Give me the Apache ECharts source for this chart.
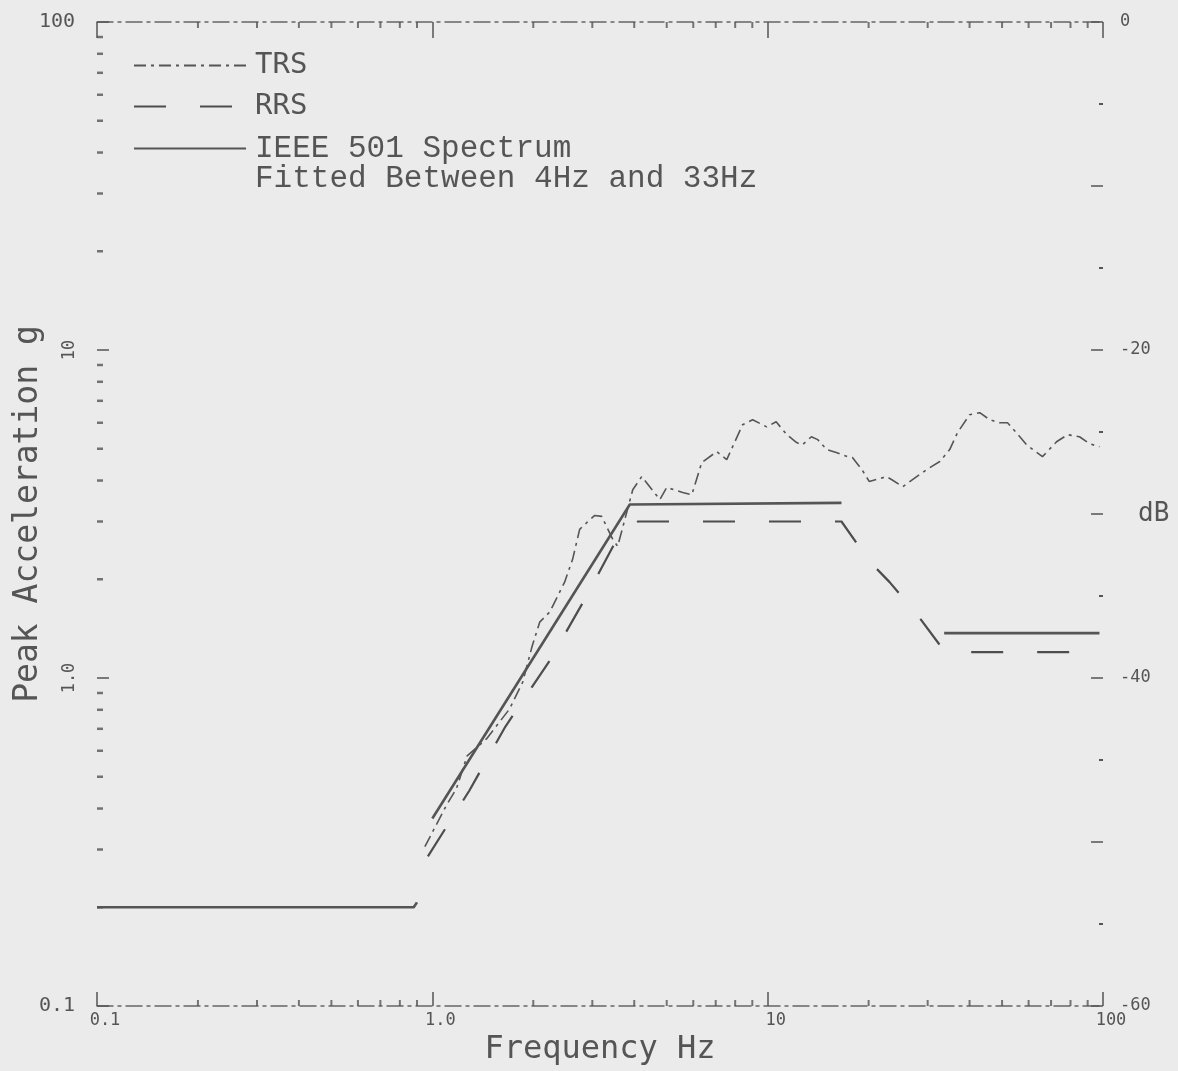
<!DOCTYPE html>
<html><head><meta charset="utf-8">
<script src="https://cdn.jsdelivr.net/npm/echarts@6/dist/echarts.min.js"></script>
<style>html,body{margin:0;padding:0;background:#ebebeb;}#c{width:1178px;height:1071px;}</style>
</head><body><div id="c"></div>
<script>
// ---- data ----
const trsFreq = [0.95,1.10,1.18,1.27,1.45,1.70,1.86,1.98,2.09,2.24,2.48,2.62,2.75,2.89,3.05,3.20,3.45,3.57,3.96,4.21,4.77,5.00,5.58,5.94,6.36,7.05,7.55,8.42,9.02,9.93,10.6,11.4,12.2,12.7,13.5,14.1,15.0,16.1,17.3,17.9,19.1,20.1,21.1,22.6,23.4,25.3,27.1,29.8,32.6,34.9,36.8,40.0,42.9,45.9,49.2,51.9,55.2,59.2,66.0,72.7,78.4,85.1,91.2,97.6];
const trsAcc  = [0.306,0.408,0.460,0.579,0.652,0.805,0.972,1.24,1.48,1.59,1.96,2.30,2.84,2.98,3.13,3.11,2.65,2.52,3.75,4.11,3.50,3.81,3.68,3.62,4.54,4.90,4.63,5.92,6.13,5.83,6.04,5.52,5.22,5.14,5.44,5.33,4.97,4.86,4.73,4.70,4.32,3.97,4.03,4.11,4.03,3.83,4.03,4.32,4.57,4.97,5.59,6.35,6.44,6.13,6.00,6.00,5.59,5.14,4.73,5.25,5.52,5.44,5.18,5.07];
const rrsFreq = [0.97,1.29,1.65,2.24,2.85,3.55,4.10,16.6,20.1,23.1,27.8,33.0,36.1,82.2];
const rrsAcc  = [0.286,0.454,0.710,1.13,1.74,2.65,3.0,3.0,2.27,1.96,1.57,1.24,1.2,1.2];
const ieeeFreq = [0.1,0.88,0.9,null,1.0,3.88,16.6,null,33.6,97.6];
const ieeeAcc  = [0.2,0.2,0.207,null,0.373,3.38,3.42,null,1.37,1.37];
const xTickVals = [0.1,1,10,100];
const xTickLabels = ['0.1','1.0','10','100'];
const yRotTickVals = [10,1];
const yRotTickLabels = ['10','1.0'];
const yFlatTickVals = [100,0.1];
const yFlatTickLabels = ['100','0.1'];
const dbLabelVals = [0,-20,-40,-60,-30];
const dbLabelTexts = ['0','-20','-40','-60','dB'];
const minorMultipliers = [2,3,4,5,6,7,8,9];
const decadeStarts = [0.1,1,10];

// ---- helpers ----
function pairs(xs, ys){ return xs.map((x,i)=> x===null ? [NaN,'-'] : [x, ys[i]]); }
function findLog(vals, v){ return vals.findIndex(t=>Math.abs(Math.log10(t)-Math.log10(v))<1e-6); }
const minorVals = [];
decadeStarts.forEach(d=>minorMultipliers.forEach(m=>minorVals.push(+(d*m).toPrecision(3))));

const ink = '#555';
const plotFont = 'DejaVu Sans Mono';
const chart = echarts.init(document.getElementById('c'));
const option = {
  backgroundColor:'#ebebeb',
  animation:false,
  grid:{left:97,right:75,top:22,bottom:63},
  legend:{
    orient:'vertical', left:128, top:46, itemWidth:112, itemHeight:14, itemGap:12,
    itemStyle:{opacity:0},
    textStyle:{color:ink, padding:[0,0,0,4]},
    data:[
      {name:'TRS', textStyle:{fontFamily:plotFont, fontSize:29}},
      {name:'RRS', textStyle:{fontFamily:plotFont, fontSize:29}},
      {name:'IEEE 501 Spectrum', textStyle:{fontFamily:'Liberation Mono', fontSize:31}}
    ]
  },
  graphic:[{type:'text', left:255, top:163, style:{text:'Fitted Between 4Hz and 33Hz', font:'31px "Liberation Mono"', fill:ink}}],
  xAxis:[
    {type:'log', logBase:10, min:0.1, max:100, position:'bottom',
     axisLine:{onZero:false, lineStyle:{color:'#666', width:1.5, type:[16,5,3,5]}},
     axisTick:{inside:true, length:14, lineStyle:{color:ink, width:1.5}},
     axisLabel:{fontFamily:plotFont, fontSize:17, color:ink, margin:6, padding:[0,0,0,16],
       formatter:v=>{const i=findLog(xTickVals,v); return i<0?'':xTickLabels[i];}},
     splitLine:{show:false},
     name:'Frequency Hz', nameLocation:'middle', nameGap:28,
     nameTextStyle:{fontFamily:plotFont, fontSize:32, color:ink}},
    {type:'log', logBase:10, min:0.1, max:100, position:'top',
     axisLine:{onZero:false, lineStyle:{color:'#666', width:1.5, type:[16,5,3,5]}},
     axisTick:{inside:true, length:16, lineStyle:{color:ink, width:1.5}},
     axisLabel:{show:false}, splitLine:{show:false}}
  ],
  yAxis:[
    {type:'log', logBase:10, min:0.1, max:100, position:'left',
     axisLine:{show:false, onZero:false},
     axisTick:{show:true, inside:true, length:12, lineStyle:{color:ink, width:1.5}},
     axisLabel:{rotate:90, margin:19, fontFamily:plotFont, fontSize:17, color:ink,
       formatter:v=>{const i=findLog(yRotTickVals,v); return i<0?'':yRotTickLabels[i];}},
     splitLine:{show:false},
     name:'Peak Acceleration g', nameLocation:'middle', nameGap:52, nameRotate:90,
     nameTextStyle:{fontFamily:plotFont, fontSize:33, color:ink}},
    {type:'log', logBase:10, min:0.1, max:100, position:'left',
     axisLine:{show:false, onZero:false}, axisTick:{show:false}, splitLine:{show:false},
     axisLabel:{margin:22, fontFamily:plotFont, fontSize:20, color:ink,
       formatter:v=>{const i=findLog(yFlatTickVals,v); return i<0?'':yFlatTickLabels[i];}}},
    {type:'value', min:-60, max:0, interval:10, position:'right',
     axisLine:{show:false, onZero:false},
     axisTick:{show:true, inside:true, length:12, lineStyle:{color:ink, width:1.5}},
     minorTick:{show:true, splitNumber:2, length:4, lineStyle:{color:ink, width:2}},
     splitLine:{show:false},
     axisLabel:{margin:17, fontFamily:plotFont, fontSize:17, color:ink,
       formatter:v=>{const i=dbLabelVals.indexOf(v); if(i<0) return ''; return v===-30?'{db|'+dbLabelTexts[i]+'}':dbLabelTexts[i];},
       rich:{db:{fontFamily:plotFont, fontSize:26, color:ink, padding:[0,0,0,18]}}}}
  ],
  series:[
    {name:'TRS', type:'line', xAxisIndex:0, yAxisIndex:0, data:pairs(trsFreq,trsAcc),
     symbol:'none', connectNulls:false, itemStyle:{color:'#555'}, lineStyle:{color:'#555', width:1.6, type:[12,5,3,5]}, z:3},
    {name:'RRS', type:'line', xAxisIndex:0, yAxisIndex:0, data:pairs(rrsFreq,rrsAcc),
     symbol:'none', connectNulls:false, itemStyle:{color:'#4d4d4d'}, lineStyle:{color:'#4d4d4d', width:2.2, type:[32,34]}, z:3},
    {name:'IEEE 501 Spectrum', type:'line', xAxisIndex:0, yAxisIndex:0, data:pairs(ieeeFreq,ieeeAcc),
     symbol:'none', connectNulls:false, itemStyle:{color:'#555'}, lineStyle:{color:'#555', width:2.6}, z:4},
    {name:'leftMinor', type:'scatter', xAxisIndex:0, yAxisIndex:0, silent:true, clip:false,
     data:minorVals.map(v=>[0.1,v]), symbol:'rect', symbolSize:[6,2.5], symbolOffset:[3,0],
     itemStyle:{color:ink}},
    {name:'bottomMinor', type:'scatter', xAxisIndex:0, yAxisIndex:0, silent:true, clip:false,
     data:minorVals.map(v=>[v,0.1]), symbol:'rect', symbolSize:[2,6], symbolOffset:[0,-3],
     itemStyle:{color:ink}},
    {name:'topMinor', type:'scatter', xAxisIndex:0, yAxisIndex:0, silent:true, clip:false,
     data:minorVals.map(v=>[v,100]), symbol:'rect', symbolSize:[2,6], symbolOffset:[0,3],
     itemStyle:{color:ink}}
  ]
};
chart.setOption(option);
</script>
</body></html>
